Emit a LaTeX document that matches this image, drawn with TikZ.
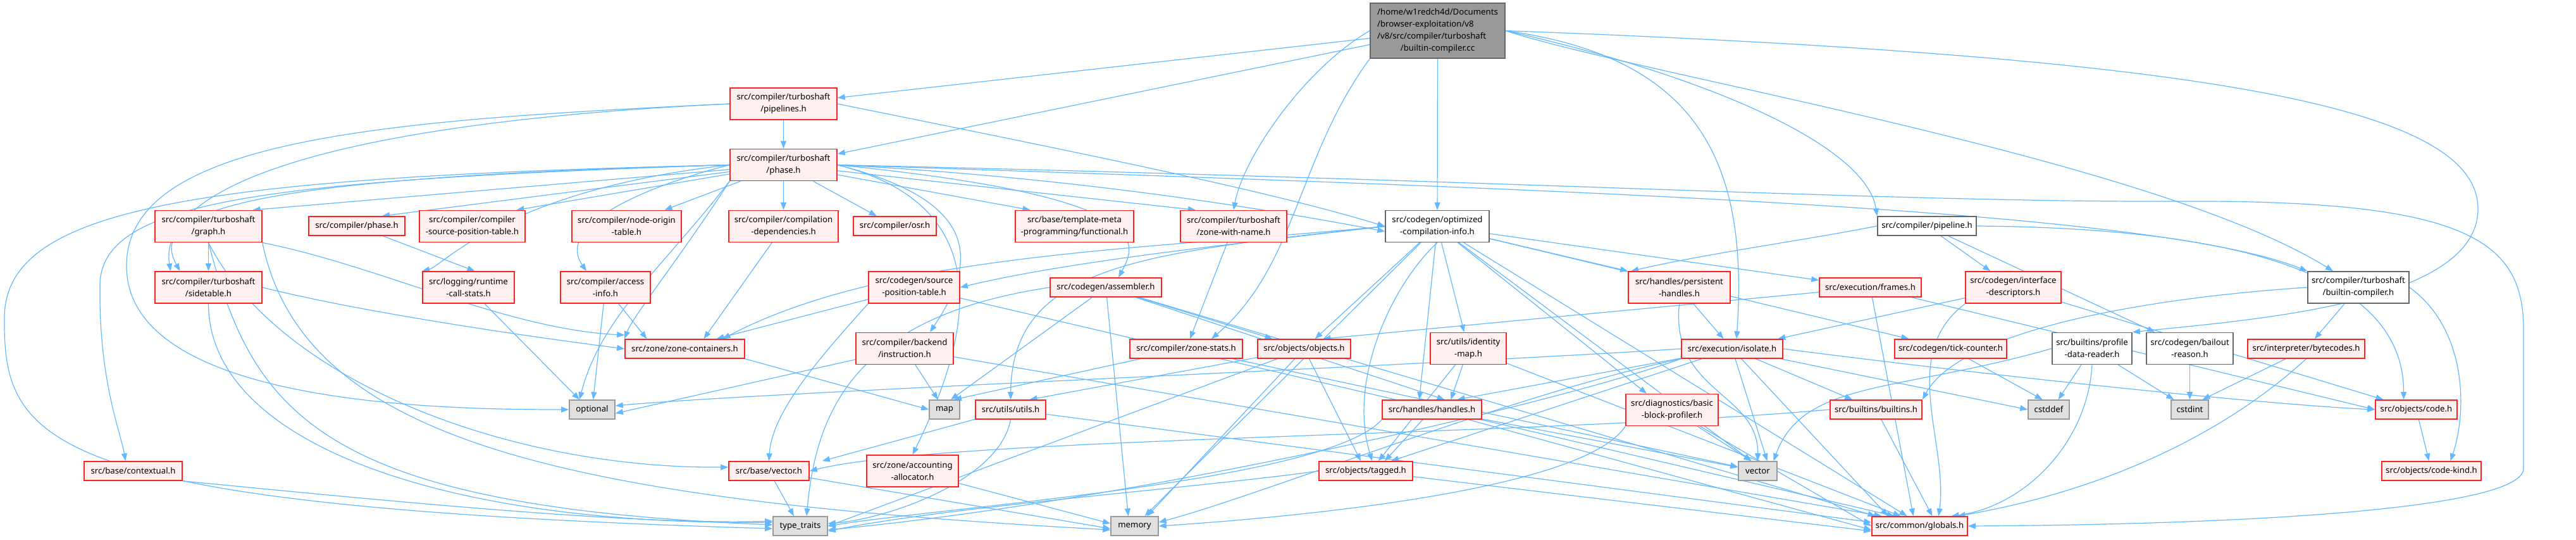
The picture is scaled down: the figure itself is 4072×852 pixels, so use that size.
\documentclass[tikz,border=0pt]{standalone}
\usepackage{fontspec}
\setmainfont{Noto Sans}
\usetikzlibrary{arrows.meta,backgrounds}
\definecolor{eblue}{HTML}{63B8FF}
\definecolor{rfill}{HTML}{FFF0F0}
\definecolor{rline}{HTML}{FF2020}
\definecolor{gfill}{HTML}{E0E0E0}
\definecolor{gline}{HTML}{999999}
\definecolor{dline}{HTML}{666666}
\begin{document}
\begin{tikzpicture}[x=1pt,y=-1pt,
  base/.style={line width=1.6pt, inner sep=0pt, align=center, font=\fontsize{13.2}{19}\selectfont, text=black},
  rbox/.style={base, draw=rline, fill=rfill},
  wbox/.style={base, draw=dline, fill=white},
  gbox/.style={base, draw=gline, fill=gfill},
  mbox/.style={base, draw=dline, fill=gline},
  arr/.style={draw=eblue, line width=1.2pt, -{Triangle[length=12pt,width=9pt]}}]
\useasboundingbox (0,0) rectangle (4072,852);
% ---- nodes ----
\node[mbox, minimum width=213pt, minimum height=87pt] (M) at (2272.5,48.5) {\begin{tabular}{@{}l@{}}/home/w1redch4d/Documents\\/browser-exploitation/v8\\/v8/src/compiler/turboshaft\\\multicolumn{1}{@{}c@{}}{/builtin-compiler.cc}\end{tabular}};
\node[rbox, minimum width=169pt, minimum height=50pt] (PL) at (1238.5,164) {src/compiler/turboshaft\\/pipelines.h};
\node[rbox, minimum width=169pt, minimum height=50pt] (TP) at (1238.5,260.5) {src/compiler/turboshaft\\/phase.h};
% row 1
\node[rbox, minimum width=169pt, minimum height=50pt] (GR) at (329.5,357.5) {src/compiler/turboshaft\\/graph.h};
\node[rbox, minimum width=152pt, minimum height=30pt] (CP) at (564,357) {src/compiler/phase.h};
\node[rbox, minimum width=167pt, minimum height=50pt] (CSPT) at (746.5,357.5) {src/compiler/compiler\\-source-position-table.h};
\node[rbox, minimum width=173pt, minimum height=50pt] (NOT) at (990.5,357.5) {src/compiler/node-origin\\-table.h};
\node[rbox, minimum width=173pt, minimum height=50pt] (CD) at (1238.5,357.5) {src/compiler/compilation\\-dependencies.h};
\node[rbox, minimum width=131pt, minimum height=30pt] (OSR) at (1414.5,357) {src/compiler/osr.h};
\node[rbox, minimum width=187pt, minimum height=50pt] (FN) at (1698.5,357.5) {src/base/template-meta\\-programming/functional.h};
\node[rbox, minimum width=168pt, minimum height=50pt] (ZWN) at (1950,357.5) {src/compiler/turboshaft\\/zone-with-name.h};
\node[wbox, minimum width=164pt, minimum height=50pt] (OCI) at (2272,357.5) {src/codegen/optimized\\-compilation-info.h};
\node[wbox, minimum width=156pt, minimum height=30pt] (PIPE) at (3046,357) {src/compiler/pipeline.h};
% row 2
\node[rbox, minimum width=169pt, minimum height=50pt] (ST) at (329.5,454) {src/compiler/turboshaft\\/sidetable.h};
\node[rbox, minimum width=145pt, minimum height=50pt] (RCS) at (740.5,454) {src/logging/runtime\\-call-stats.h};
\node[rbox, minimum width=142pt, minimum height=50pt] (AI) at (957,454) {src/compiler/access\\-info.h};
\node[rbox, minimum width=144pt, minimum height=50pt] (SPT) at (1445,454) {src/codegen/source\\-position-table.h};
\node[rbox, minimum width=176pt, minimum height=30pt] (ASM) at (1748,454) {src/codegen/assembler.h};
\node[rbox, minimum width=161pt, minimum height=50pt] (PH) at (2654.5,454) {src/handles/persistent\\-handles.h};
\node[rbox, minimum width=161pt, minimum height=30pt] (FR) at (2956.5,454) {src/execution/frames.h};
\node[rbox, minimum width=151pt, minimum height=50pt] (ID) at (3182.5,454) {src/codegen/interface\\-descriptors.h};
\node[wbox, minimum width=160pt, minimum height=50pt] (BCH) at (3728,454) {src/compiler/turboshaft\\/builtin-compiler.h};
% row 3
\node[rbox, minimum width=189pt, minimum height=30pt] (ZC) at (1082.5,551) {src/zone/zone-containers.h};
\node[rbox, minimum width=154pt, minimum height=50pt] (INS) at (1430,550.5) {src/compiler/backend\\/instruction.h};
\node[rbox, minimum width=178pt, minimum height=30pt] (ZS) at (1875,551) {src/compiler/zone-stats.h};
\node[rbox, minimum width=147pt, minimum height=30pt] (OBJ) at (2061.5,551) {src/objects/objects.h};
\node[rbox, minimum width=120pt, minimum height=50pt] (IM) at (2321,550.5) {src/utils/identity\\-map.h};
\node[rbox, minimum width=160pt, minimum height=30pt] (ISO) at (2738,551) {src/execution/isolate.h};
\node[rbox, minimum width=177pt, minimum height=30pt] (TC) at (3083.5,551) {src/codegen/tick-counter.h};
\node[wbox, minimum width=126pt, minimum height=50pt] (PDR) at (3307,550.5) {src/builtins/profile\\-data-reader.h};
\node[wbox, minimum width=137pt, minimum height=50pt] (BR) at (3461.5,550.5) {src/codegen/bailout\\-reason.h};
\node[rbox, minimum width=185pt, minimum height=30pt] (BC) at (3645.5,551) {src/interpreter/bytecodes.h};
% row 4
\node[gbox, minimum width=72pt, minimum height=30pt] (OPT) at (936,647) {optional};
\node[gbox, minimum width=48pt, minimum height=30pt] (MAP) at (1493,647) {map};
\node[rbox, minimum width=111pt, minimum height=30pt] (UT) at (1597.5,647) {src/utils/utils.h};
\node[rbox, minimum width=157pt, minimum height=30pt] (HND) at (2263.5,647) {src/handles/handles.h};
\node[rbox, minimum width=146pt, minimum height=50pt] (BBP) at (2643,647.5) {src/diagnostics/basic\\-block-profiler.h};
\node[rbox, minimum width=145pt, minimum height=30pt] (BLT) at (2965.5,647) {src/builtins/builtins.h};
\node[gbox, minimum width=65pt, minimum height=30pt] (CDEF) at (3238.5,647) {cstddef};
\node[gbox, minimum width=59pt, minimum height=30pt] (CINT) at (3461.5,647) {cstdint};
\node[rbox, minimum width=129pt, minimum height=30pt] (CODE) at (3819.5,647) {src/objects/code.h};
% row 5
\node[rbox, minimum width=155pt, minimum height=30pt] (CTX) at (210.5,744) {src/base/contextual.h};
\node[rbox, minimum width=127pt, minimum height=30pt] (VECH) at (1215.5,744) {src/base/vector.h};
\node[rbox, minimum width=145pt, minimum height=50pt] (AA) at (1442.5,744) {src/zone/accounting\\-allocator.h};
\node[rbox, minimum width=148pt, minimum height=30pt] (TAG) at (2159,744) {src/objects/tagged.h};
\node[gbox, minimum width=61pt, minimum height=30pt] (VEC) at (2778.5,744) {vector};
\node[rbox, minimum width=157pt, minimum height=30pt] (CK) at (3843.5,744) {src/objects/code-kind.h};
% row 6
\node[gbox, minimum width=86pt, minimum height=30pt] (TT) at (1265,831) {type\_traits};
\node[gbox, minimum width=75pt, minimum height=30pt] (MEM) at (1793.5,831) {memory};
\node[rbox, minimum width=151pt, minimum height=30pt] (GLB) at (3034.5,831) {src/common/globals.h};
% ---- edges ----
\begin{pgfonlayer}{background}
\fill[white] (0,0) rectangle (4072,852);
% main
\draw[arr] (M) -- (PL);
\draw[arr] (M) -- (TP);
\draw[arr] (M) -- (OCI);
\draw[arr] (M.east) .. controls (2700,120) and (2950,230) .. (PIPE.north west);
\draw[arr] (M.east) .. controls (2600,120) and (3400,250) .. ([xshift=-40pt]BCH.north);
\draw[arr] (M.west) .. controls (2060,110) and (1965,250) .. (ZWN.north);
\draw[arr] (M.south west) .. controls (2050,250) and (2050,420) .. ([xshift=40pt]ZS.north);
\draw[arr] (M.east) .. controls (2680,90) and (2765,250) .. ([xshift=7pt]ISO.north);
\draw[arr] (M.east) .. controls (3500,90) and (3917,170) .. (3917,330) .. controls (3917,480) and (3560,505) .. (PDR.north east);
% pipelines
\draw[arr] (PL) -- (TP);
\draw[arr] (PL.east) .. controls (1700,240) and (2000,300) .. (OCI.west);
\draw[arr] (PL.west) .. controls (500,195) and (250,300) .. ([xshift=-60pt]ST.north);
\draw[arr] (PL.west) .. controls (600,190) and (200,220) .. (200,420) .. controls (200,640) and (700,647) .. (OPT.west);
% turboshaft phase
\draw[arr] (TP) -- ([xshift=70pt]GR.north);
\draw[arr] (TP) -- ([xshift=40pt]CP.north);
\draw[arr] (TP) -- ([xshift=70pt]CSPT.north);
\draw[arr] (TP) -- ([xshift=60pt]NOT.north);
\draw[arr] (TP) -- (CD);
\draw[arr] (TP) -- (OSR);
\draw[arr] (TP) -- ([xshift=-70pt]FN.north);
\draw[arr] (TP) -- ([xshift=-60pt]ZWN.north);
\draw[arr] (TP.east) .. controls (1700,280) and (2000,330) .. ([yshift=-8pt]OCI.west);
\draw[arr] (TP.east) .. controls (2500,300) and (3400,330) .. (BCH.north west);
\draw[arr] (TP.east) .. controls (2400,285) and (3000,320) .. (3450,318) .. controls (3900,316) and (3989,380) .. (3989,520) -- (3989,740) .. controls (3989,800) and (3600,828) .. (GLB.east);
\draw[arr] (TP.west) .. controls (400,280) and (230,330) .. ([xshift=-45pt]ST.north);
\draw[arr] (TP.west) .. controls (800,300) and (700,420) .. (RCS.north west);
\draw[arr] (TP.west) .. controls (1000,300) and (880,360) .. ([xshift=-30pt]AI.north);
\draw[arr] (TP.south west) .. controls (1080,400) and (1000,500) .. (ZC.north west);
\draw[arr] (TP.south west) .. controls (1050,420) and (950,500) .. ([xshift=-20pt]OPT.north);
\draw[arr] (TP.east) .. controls (1600,330) and (1520,560) .. (AA.north);
\draw[arr] (TP.east) .. controls (1820,310) and (1800,380) .. ([xshift=20pt]ASM.north);
\draw[arr] (TP.east) .. controls (1560,320) and (1540,420) .. ([xshift=40pt]INS.north);
\draw[arr] (TP.west) .. controls (400,285) and (160,320) .. (158,450) .. controls (156,600) and (190,680) .. ([xshift=-12pt]CTX.north);
\draw[arr] (TP.west) .. controls (300,280) and (10,330) .. (7,500) .. controls (5,700) and (60,800) .. ([yshift=-4pt]TT.west);
% graph
\draw[arr] (GR) -- (ST);
\draw[arr] (GR.south east) .. controls (600,420) and (800,520) .. ([yshift=6pt]ZC.north west);
\draw[arr] (GR.south) .. controls (440,600) and (800,740) .. ([yshift=6pt]VECH.west);
\draw[arr] (GR.south) .. controls (400,650) and (500,800) .. ([yshift=2pt]TT.west);
\draw[arr] (GR.south east) .. controls (480,700) and (900,790) .. ([yshift=-6pt]MEM.west);
\draw[arr] (CP) -- ([xshift=10pt]RCS.north);
\draw[arr] (CD) -- ([xshift=30pt]ZC.north);
\draw[arr] (ZWN) -- (ZS);
% second row
\draw[arr] (ST.east) .. controls (600,500) and (900,540) .. (ZC.west);
\draw[arr] (ST.south) .. controls (330,700) and (700,830) .. ([yshift=6pt]TT.west);
\draw[arr] (RCS) -- ([xshift=-20pt]OPT.north);
\draw[arr] (AI) -- (OPT);
\draw[arr] (AI) -- ([xshift=-60pt]ZC.north);
\draw[arr] (CTX.south east) .. controls (600,790) and (1000,830) .. ([yshift=8pt]TT.west);
\draw[arr] (SPT) -- ([xshift=50pt]ZC.north);
\draw[arr] (SPT.south west) .. controls (1300,560) and (1220,650) .. (VECH.north);
\draw[arr] (SPT) -- ([xshift=-40pt]GLB.north);
\draw[arr] (ZC.south east) -- (MAP.west);
\draw[arr] (INS) -- ([yshift=-6pt]OPT.east);
\draw[arr] (INS) -- (MAP);
\draw[arr] (INS) -- ([xshift=-60pt]GLB.north);
\draw[arr] (ASM) -- ([xshift=10pt]MAP.north);
\draw[arr] (ASM.west) .. controls (1350,500) and (1290,650) .. ([xshift=10pt]TT.north);
\draw[arr] (ASM) -- ([xshift=-10pt]MEM.north);
\draw[arr] (ASM) -- ([xshift=-50pt]OBJ.north);
\draw[arr] (ASM) -- ([xshift=20pt]HND.north);
\draw[arr] (ASM) -- ([xshift=-70pt]GLB.north);
\draw[arr] (ZS) -- ([xshift=15pt]MAP.north);
\draw[arr] (ZS) -- (VEC);
% OCI
\draw[arr] (OCI.west) .. controls (1800,395) and (1400,400) .. ([xshift=60pt]ZC.north);
\draw[arr] (OCI.west) .. controls (1800,400) and (1600,420) .. (UT.north);
\draw[arr] (OCI.west) .. controls (2000,380) and (1700,410) .. (SPT.east);
\draw[arr] (OCI) -- (OBJ);
\draw[arr] (OCI) -- (IM);
\draw[arr] (OCI) -- ([xshift=-20pt]HND.north);
\draw[arr] (OCI.south) .. controls (2200,450) and (2130,600) .. ([xshift=10pt]TAG.north);
\draw[arr] (OCI) -- ([xshift=-40pt]BBP.north);
\draw[arr] (OCI) -- (PH.north west);
\draw[arr] (OCI) -- (FR);
\draw[arr] (OCI) -- (TC);
\draw[arr] (OCI) -- (MEM);
\draw[arr] (OCI) -- ([xshift=-20pt]GLB.north);
\draw[arr] (OCI) -- ([xshift=-10pt]VEC.north);
% pipeline.h
\draw[arr] (PIPE.west) .. controls (2850,380) and (2700,400) .. ([xshift=5pt]PH.north west);
\draw[arr] (PIPE) -- (ID);
\draw[arr] (PIPE) -- (BR);
\draw[arr] (PIPE.east) .. controls (3500,360) and (3800,420) .. ([xshift=-20pt]CODE.north);
% misc
\draw[arr] (OBJ) -- ([xshift=30pt]UT.north);
\draw[arr] (OBJ) -- (TAG);
\draw[arr] (OBJ) -- ([xshift=20pt]MEM.north);
\draw[arr] (OBJ) -- (TT.east);
\draw[arr] (PH) -- (ISO);
\draw[arr] (PH.south) .. controls (2640,620) and (2780,620) .. (VEC.north);
\draw[arr] (FR) -- ([xshift=30pt]OBJ.north);
\draw[arr] (FR) -- ([xshift=-10pt]GLB.north);
\draw[arr] (FR) -- (CODE.west);
\draw[arr] (ID) -- (CODE);
\draw[arr] (ID) -- (ISO);
\draw[arr] (ID.south west) .. controls (3000,560) and (3080,700) .. ([xshift=30pt]GLB.north);
\draw[arr] (IM) -- ([xshift=30pt]HND.north);
\draw[arr] (IM) -- ([xshift=20pt]TAG.north);
\draw[arr] (IM) -- ([xshift=-30pt]GLB.north);
\draw[arr] (ISO) -- ([xshift=40pt]HND.north);
\draw[arr] (ISO) -- ([xshift=40pt]TAG.north);
\draw[arr] (ISO) -- ([xshift=15pt]VEC.north);
\draw[arr] (ISO) -- (BLT);
\draw[arr] (ISO) -- (CDEF.west);
\draw[arr] (ISO) -- ([xshift=-50pt]GLB.north);
\draw[arr] (ISO.south west) .. controls (2400,620) and (2000,780) .. ([yshift=6pt]MEM.east);
\draw[arr] (ISO.south west) .. controls (2450,640) and (1800,790) .. ([yshift=-6pt]TT.east);
\draw[arr] (ISO.west) .. controls (2200,580) and (1200,620) .. ([yshift=6pt]OPT.east);
\draw[arr] (ISO.east) .. controls (3200,600) and (3600,640) .. (CODE.west);
\draw[arr] (TC) -- ([xshift=-10pt]CDEF.north);
\draw[arr] (PDR) -- ([xshift=15pt]CDEF.north);
\draw[arr] (PDR) -- (CINT);
\draw[arr] (PDR.south) .. controls (3300,700) and (3200,800) .. ([xshift=50pt]GLB.north);
\draw[arr] (PDR.west) .. controls (3000,620) and (2850,600) .. ([xshift=25pt]VEC.north);
\draw[arr] (BR) -- (CINT);
\draw[arr] (BC) -- ([xshift=20pt]CINT.north);
\draw[arr] (BC.south) .. controls (3500,700) and (3300,780) .. ([xshift=60pt]GLB.north);
\draw[arr] (BCH) -- (BC);
\draw[arr] (BCH.west) .. controls (3400,470) and (3100,520) .. (BLT.north east);
\draw[arr] (BCH.east) .. controls (3900,520) and (3900,650) .. ([xshift=30pt]CK.north);
\draw[arr] (HND) -- ([xshift=30pt]TAG.north);
\draw[arr] (HND) -- (VEC);
\draw[arr] (HND) -- ([yshift=-6pt]GLB.west);
\draw[arr] (HND.south west) .. controls (2100,760) and (1500,800) .. (TT.east);
\draw[arr] (BBP) -- ([xshift=-10pt]VEC.north);
\draw[arr] (BBP) -- (GLB.west);
\draw[arr] (BBP.south west) .. controls (2500,780) and (2000,820) .. (MEM.east);
\draw[arr] (BLT) -- ([xshift=20pt]GLB.north);
\draw[arr] (BLT.west) .. controls (2400,690) and (1500,690) .. (VECH.east);
\draw[arr] (CODE) -- (CK);
\draw[arr] (UT) -- ([xshift=20pt]VECH.north east);
\draw[arr] (UT.south) .. controls (1580,760) and (1400,820) .. ([yshift=4pt]TT.east);
\draw[arr] (UT) -- ([yshift=6pt]GLB.west);
\draw[arr] (VECH) -- ([xshift=-10pt]TT.north);
\draw[arr] (VECH) -- ([yshift=-4pt]MEM.west);
\draw[arr] (AA) -- ([yshift=4pt]MEM.west);
\draw[arr] (TAG) -- ([yshift=-8pt]GLB.west);
\draw[arr] (TAG.west) .. controls (1900,770) and (1500,800) .. ([yshift=-8pt]TT.east);
\end{pgfonlayer}
\end{tikzpicture}
\end{document}
